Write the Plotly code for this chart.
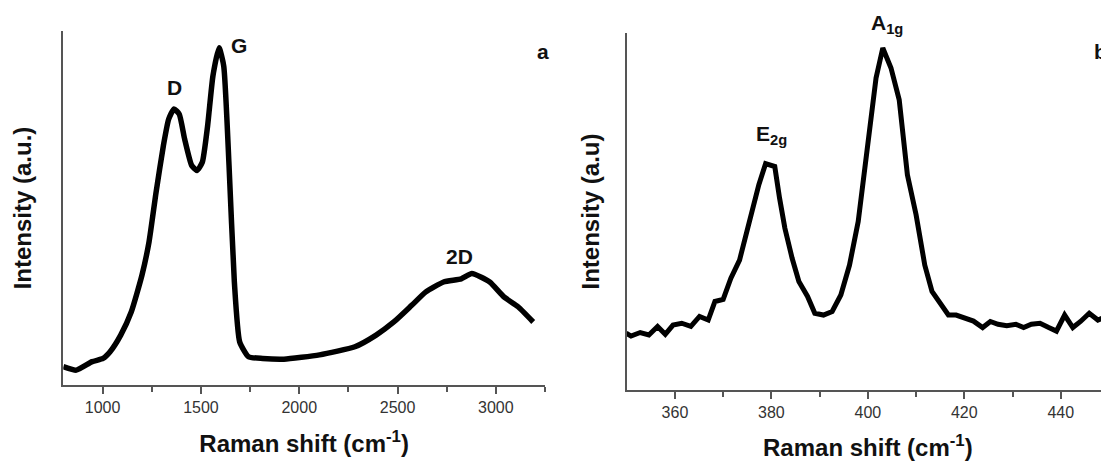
import plotly.graph_objects as go

# Panel a: carbon Raman spectrum (D, G, 2D bands)
shift_a = [800, 866, 947, 1002, 1038, 1092, 1146, 1200, 1236, 1272, 1309, 1336, 1363,
           1390, 1417, 1453, 1480, 1507, 1534, 1561, 1592, 1616, 1643, 1670, 1697,
           1742, 1814, 1922, 2103, 2283, 2391, 2481, 2572, 2644, 2734, 2824, 2878,
           2969, 3041, 3113, 3190]
intensity_a = [5.2, 4.2, 6.6, 7.5, 9.4, 14.1, 20.7, 31.0, 40.4, 54.5, 67.6, 75.1, 78.0,
               76.5, 69.5, 62.0, 60.6, 62.9, 73.2, 87.3, 95.3, 90.1, 62.0, 29.1, 12.2,
               8.0, 7.5, 7.3, 8.5, 10.8, 14.1, 17.8, 22.5, 26.3, 29.1, 30.0, 31.5,
               29.1, 24.9, 22.1, 17.8]

# Panel b: MoS2 Raman spectrum (E2g, A1g modes)
shift_b = [349.9, 350.9, 352.8, 354.6, 356.4, 358.0, 359.6, 361.4, 363.3, 365.1, 366.9,
           368.3, 370.0, 371.6, 373.4, 374.5, 376.0, 377.4, 378.8, 380.7, 381.7, 382.8,
           384.3, 385.7, 387.5, 389.0, 390.8, 392.6, 394.4, 396.2, 398.0, 399.9, 401.7,
           403.1, 404.8, 406.5, 408.2, 410.0, 411.8, 413.3, 415.1, 416.7, 418.3, 420.1,
           421.9, 423.8, 425.4, 427.0, 428.8, 430.7, 432.3, 433.9, 435.7, 437.5, 439.1,
           440.8, 442.5, 444.1, 445.9, 447.7, 449.5]
intensity_b = [15.9, 15.1, 16.1, 15.4, 17.8, 15.6, 18.2, 18.7, 17.8, 20.6, 19.6,
               24.8, 25.4, 31.3, 36.4, 42.5, 50.9, 57.5, 63.4, 62.6, 53.7, 45.3,
               36.9, 30.4, 26.2, 21.5, 21.0, 22.0, 26.6, 35.0, 47.2, 67.8, 87.4,
               95.8, 90.2, 81.3, 60.3, 49.1, 35.0, 27.6, 24.3, 21.0, 21.0, 20.3,
               19.3, 17.5, 19.2, 18.4, 18.0, 18.4, 17.5, 18.4, 18.7, 17.5, 16.5,
               21.0, 17.5, 19.2, 21.5, 19.6, 20.6]

ticks_a = [1000, 1500, 2000, 2500, 3000]
ticks_b = [360, 380, 400, 420, 440]

# page body has an 8px margin, so the figure is laid out 8px up/left of the reference
W, H = 1101, 455
FONT = "Liberation Sans, Arial, sans-serif"

fig = go.Figure()
fig.add_trace(go.Scatter(x=shift_a, y=intensity_a, mode="lines",
                         line=dict(color="black", width=5.5, shape="spline", smoothing=0.5),
                         xaxis="x", yaxis="y", showlegend=False))
fig.add_trace(go.Scatter(x=shift_b, y=intensity_b, mode="lines",
                         line=dict(color="black", width=5),
                         xaxis="x2", yaxis="y2", showlegend=False))

tickfont = dict(family=FONT, size=16, color="#333333")
titlefont = dict(family=FONT, size=24, color="#111111", weight="bold")
axis_common = dict(showline=True, linecolor="#555555", linewidth=1.5, showgrid=False,
                   zeroline=False, ticks="outside", ticklen=7, tickwidth=1.5,
                   tickcolor="#555555", tickfont=tickfont, automargin=False)
yaxis_common = dict(showline=True, linecolor="#555555", linewidth=1.5, showgrid=False,
                    zeroline=False, showticklabels=False, ticks="", automargin=False)

fig.update_layout(
    width=W, height=H,
    margin=dict(l=0, r=0, t=0, b=0),
    paper_bgcolor="white", plot_bgcolor="white",
    xaxis=dict(domain=[55.3 / W, 537 / W], range=[800, 3250], tickvals=ticks_a,
               minor=dict(tickvals=[1250, 1750, 2250, 2750, 3250], ticks="outside",
                          ticklen=5, tickwidth=1.5, tickcolor="#555555"),
               title=dict(text="Raman shift (cm<sup>-1</sup>)", font=titlefont, standoff=20),
               anchor="y", **axis_common),
    yaxis=dict(domain=[(H - 377) / H, (H - 23) / H], range=[0, 100],
               title=dict(text="Intensity (a.u.)", font=titlefont, standoff=23),
               anchor="x", **yaxis_common),
    xaxis2=dict(domain=[618.7 / W, 1.0], range=[350, 450], tickvals=ticks_b,
                minor=dict(tickvals=[370, 390, 410, 430], ticks="outside",
                           ticklen=5, tickwidth=1.5, tickcolor="#555555"),
                title=dict(text="Raman shift (cm<sup>-1</sup>)", font=titlefont, standoff=19),
                anchor="y2", **axis_common),
    yaxis2=dict(domain=[(H - 382) / H, (H - 25) / H], range=[0, 100],
                title=dict(text="Intensity (a.u)", font=titlefont, standoff=19),
                anchor="x2", **yaxis_common),
)

lblfont = dict(family=FONT, size=21, color="#111111", weight="bold")
ann = [
    dict(text="D", x=1365, y=84, xref="x", yref="y"),
    dict(text="G", x=1696, y=96, xref="x", yref="y"),
    dict(text="2D", x=2816, y=36.2, xref="x", yref="y"),
    dict(text="a", x=535 / W, y=(H - 43) / H, xref="paper", yref="paper"),
    dict(text="E<sub>2g</sub>", x=380.0, y=71.5, xref="x2", yref="y2"),
    dict(text="A<sub>1g</sub>", x=404.0, y=(H - 16) / H, xref="x2", yref="paper"),
    dict(text="b", x=1084 / W, y=(H - 44) / H, xref="paper", yref="paper", xanchor="left"),
]
for a in ann:
    a.setdefault("xanchor", "center")
    fig.add_annotation(showarrow=False, font=lblfont, yanchor="middle", **a)

fig.write_html("out.html")
